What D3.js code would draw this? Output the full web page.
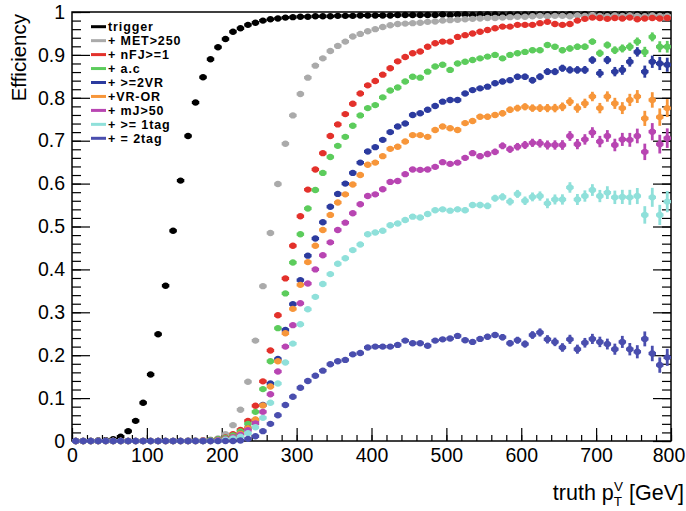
<!DOCTYPE html>
<html>
<head>
<meta charset="utf-8">
<script src="https://cdn.jsdelivr.net/npm/d3@7"></script>
<style>
  html, body { margin: 0; padding: 0; background: #fff; }
  svg { display: block; font-family: "Liberation Sans", Arial, Helvetica, sans-serif; }
</style>
</head>
<body>
<svg id="chart" width="686" height="511"></svg>
<script>
// Bin centres of truth pT^V [GeV]: 80 bins of 10 GeV
const binCentres = [5,15,25,35,45,55,65,75,85,95,105,115,125,135,145,155,165,175,185,195,
  205,215,225,235,245,255,265,275,285,295,305,315,325,335,345,355,365,375,385,395,
  405,415,425,435,445,455,465,475,485,495,505,515,525,535,545,555,565,575,585,595,
  605,615,625,635,645,655,665,675,685,695,705,715,725,735,745,755,765,775,785,795];

// Number of truth events per bin (denominator of each efficiency)
const truthEvents = [300000,300000,300000,300000,300000,300000,300000,300000,300000,300000,
  300000,300000,300000,300000,300000,300000,300000,300000,300000,300000,
  250000,250000,200000,200000,200000,180000,160000,150000,140000,130000,
  120000,100000,90000,80000,70000,60000,50000,42000,36000,30000,
  25000,21000,18000,16000,14000,12000,10500,9500,8500,7600,
  7000,6200,5600,5000,4600,4200,3800,3400,3100,2800,
  2500,2300,2100,1900,1800,1700,1600,1500,1400,1300,
  1200,1100,1000,900,800,700,600,500,450,400];

const trigger = [0,0,0,0.001,0.002,0.004,0.010,0.023,0.047,0.089,
  0.155,0.249,0.362,0.490,0.607,0.711,0.789,0.848,0.890,0.918,
  0.937,0.954,0.962,0.970,0.975,0.980,0.983,0.985,0.987,0.988,
  0.989,0.989,0.990,0.990,0.990,0.991,0.991,0.991,0.992,0.992,
  0.992,0.992,0.992,0.993,0.993,0.993,0.993,0.993,0.993,0.994,
  0.993,0.994,0.994,0.993,0.994,0.994,0.994,0.993,0.994,0.994,
  0.994,0.995,0.994,0.994,0.995,0.994,0.995,0.994,0.995,0.994,
  0.995,0.994,0.995,0.995,0.994,0.995,0.994,0.995,0.994,0.995];

const met250 = [0,0,0,0,0,0,0,0,0,0,
  0,0,0,0,0,0.001,0.001,0.002,0.003,0.006,
  0.016,0.037,0.073,0.138,0.234,0.361,0.485,0.599,0.693,0.759,
  0.809,0.847,0.875,0.892,0.909,0.921,0.931,0.943,0.949,0.955,
  0.960,0.965,0.969,0.972,0.973,0.974,0.975,0.977,0.978,0.980,
  0.981,0.982,0.983,0.984,0.985,0.986,0.986,0.987,0.988,0.989,
  0.989,0.990,0.991,0.990,0.991,0.991,0.990,0.992,0.991,0.993,
  0.991,0.990,0.992,0.991,0.992,0.991,0.990,0.992,0.991,0.991];

const nFJ = [0,0,0,0,0,0,0,0,0,0,
  0,0,0,0,0,0,0,0.001,0.002,0.004,
  0.008,0.016,0.026,0.047,0.082,0.139,0.211,0.293,0.379,0.455,
  0.524,0.586,0.633,0.671,0.711,0.738,0.762,0.786,0.810,0.829,
  0.839,0.854,0.869,0.885,0.895,0.904,0.908,0.919,0.927,0.931,
  0.931,0.942,0.946,0.950,0.954,0.958,0.962,0.966,0.966,0.970,
  0.970,0.970,0.974,0.977,0.972,0.970,0.972,0.980,0.984,0.987,
  0.986,0.984,0.986,0.985,0.987,0.983,0.985,0.986,0.985,0.986];

const aC = [0,0,0,0,0,0,0,0,0,0,
  0,0,0,0,0,0,0,0,0.002,0.004,
  0.007,0.013,0.022,0.040,0.068,0.121,0.186,0.263,0.344,0.416,
  0.482,0.542,0.585,0.625,0.662,0.688,0.709,0.735,0.759,0.776,
  0.783,0.801,0.817,0.824,0.838,0.849,0.847,0.861,0.873,0.877,
  0.865,0.880,0.884,0.888,0.892,0.896,0.900,0.892,0.900,0.904,
  0.907,0.911,0.911,0.923,0.919,0.911,0.915,0.919,0.919,0.931,
  0.904,0.923,0.911,0.915,0.919,0.931,0.907,0.942,0.919,0.919];

const vr2 = [0,0,0,0,0,0,0,0,0,0,
  0,0,0,0,0,0,0,0,0,0.002,
  0.005,0.009,0.017,0.030,0.049,0.084,0.134,0.191,0.259,0.319,
  0.375,0.432,0.472,0.510,0.546,0.576,0.600,0.625,0.649,0.675,
  0.685,0.702,0.720,0.733,0.740,0.760,0.764,0.772,0.781,0.791,
  0.795,0.795,0.810,0.818,0.822,0.826,0.834,0.838,0.841,0.849,
  0.849,0.841,0.849,0.861,0.861,0.869,0.865,0.865,0.865,0.888,
  0.857,0.888,0.861,0.865,0.884,0.907,0.861,0.884,0.880,0.877];

const vrOR = [0,0,0,0,0,0,0,0,0,0,
  0,0,0,0,0,0,0,0,0,0.002,
  0.005,0.009,0.017,0.030,0.050,0.083,0.127,0.186,0.251,0.308,
  0.364,0.417,0.455,0.492,0.527,0.556,0.575,0.598,0.620,0.644,
  0.649,0.664,0.681,0.686,0.698,0.713,0.713,0.709,0.725,0.733,
  0.729,0.725,0.741,0.746,0.756,0.756,0.760,0.764,0.772,0.776,
  0.779,0.776,0.776,0.776,0.776,0.779,0.791,0.776,0.787,0.803,
  0.776,0.803,0.787,0.776,0.795,0.803,0.752,0.795,0.755,0.776];

const mJ50 = [0,0,0,0,0,0,0,0,0,0,
  0,0,0,0,0,0,0,0,0,0.001,
  0.004,0.008,0.014,0.025,0.041,0.068,0.109,0.162,0.220,0.270,
  0.321,0.367,0.400,0.433,0.463,0.492,0.509,0.531,0.552,0.571,
  0.575,0.587,0.604,0.606,0.622,0.633,0.632,0.633,0.639,0.650,
  0.646,0.649,0.660,0.671,0.664,0.669,0.674,0.688,0.680,0.686,
  0.690,0.695,0.694,0.690,0.690,0.690,0.711,0.692,0.703,0.719,
  0.698,0.711,0.690,0.703,0.702,0.711,0.674,0.721,0.692,0.706];

const tag1 = [0,0,0,0,0,0,0,0,0,0,
  0,0,0,0,0,0,0,0,0,0,
  0.003,0.006,0.010,0.018,0.032,0.054,0.089,0.134,0.183,0.227,
  0.272,0.307,0.336,0.366,0.389,0.413,0.426,0.445,0.458,0.482,
  0.486,0.490,0.503,0.507,0.515,0.523,0.521,0.529,0.538,0.540,
  0.537,0.540,0.538,0.550,0.550,0.548,0.566,0.569,0.558,0.576,
  0.560,0.569,0.571,0.554,0.563,0.563,0.591,0.563,0.571,0.585,
  0.571,0.579,0.568,0.569,0.568,0.571,0.527,0.568,0.527,0.558];

const tag2 = [0,0,0,0,0,0,0,0,0,0,
  0,0,0,0,0,0,0,0,0,0,
  0,0,0.001,0.005,0.011,0.023,0.040,0.060,0.084,0.103,
  0.124,0.140,0.152,0.164,0.179,0.186,0.189,0.202,0.205,0.218,
  0.220,0.220,0.220,0.224,0.234,0.228,0.228,0.222,0.234,0.237,
  0.239,0.245,0.235,0.231,0.238,0.243,0.247,0.242,0.228,0.235,
  0.226,0.247,0.253,0.237,0.231,0.218,0.237,0.214,0.229,0.238,
  0.231,0.226,0.214,0.231,0.214,0.208,0.238,0.204,0.177,0.195];

const seriesNames = ["trigger", "+ MET>250", "+ nFJ>=1", "+ a.c", "+ >=2VR",
  "+VR-OR", "+ mJ>50", "+ >= 1tag", "+ = 2tag"];
const seriesValues = [trigger, met250, nFJ, aC, vr2, vrOR, mJ50, tag1, tag2];
const seriesColors = ["#000000", "#aaaaaa", "#e3312b", "#5ccc5c", "#2c3b9f",
  "#f7963a", "#b845b2", "#8fe0da", "#4a4eae"];

const xTicks = [0, 100, 200, 300, 400, 500, 600, 700, 800];
const yTicks = [0, 0.1, 0.2, 0.3, 0.4, 0.5, 0.6, 0.7, 0.8, 0.9, 1];
const binWidth = 10;

const svg = d3.select("#chart");
const frame = { left: 72, right: 671, top: 12, bottom: 441 };

const x = d3.scaleLinear().domain([0, 800]).range([frame.left, frame.right]);
const y = d3.scaleLinear().domain([0, 1]).range([frame.bottom, frame.top]);

// ---- axes (ticks inside the frame, ROOT style) ----
const axisG = svg.append("g");
const xMinor = d3.range(0, 801, 20);
const yMinor = d3.range(0, 1.0001, 0.02);

axisG.append("g").attr("transform", `translate(0,${frame.bottom})`)
  .call(d3.axisBottom(x).tickValues(xMinor).tickSize(-6).tickFormat(""))
  .call(g => g.select(".domain").remove());
axisG.append("g").attr("class", "xlab").attr("transform", `translate(0,${frame.bottom})`)
  .call(d3.axisBottom(x).tickValues(xTicks).tickSize(-13).tickPadding(7)
    .tickFormat(d3.format("d")))
  .call(g => g.select(".domain").remove());

axisG.append("g").attr("transform", `translate(${frame.left},0)`)
  .call(d3.axisLeft(y).tickValues(yMinor).tickSize(-9).tickFormat(""))
  .call(g => g.select(".domain").remove());
axisG.append("g").attr("class", "ylab").attr("transform", `translate(${frame.left},0)`)
  .call(d3.axisLeft(y).tickValues(yTicks).tickSize(-18).tickPadding(9)
    .tickFormat(d => d === 0 || d === 1 ? d3.format("d")(d) : d3.format(".1f")(d)))
  .call(g => g.select(".domain").remove());

axisG.append("g").attr("transform", `translate(${frame.right},0)`)
  .call(d3.axisRight(y).tickValues(yMinor).tickSize(-9).tickFormat(""))
  .call(g => g.select(".domain").remove());
axisG.append("g").attr("transform", `translate(${frame.right},0)`)
  .call(d3.axisRight(y).tickValues(yTicks).tickSize(-18).tickFormat(""))
  .call(g => g.select(".domain").remove());

axisG.selectAll(".tick line").attr("stroke", "#000").attr("stroke-width", 1.2);
axisG.selectAll(".tick text").attr("font-size", 19.5).attr("fill", "#000")
  .attr("font-family", "'Liberation Sans', Arial, sans-serif");
axisG.selectAll(".ylab .tick text").attr("x", -7);
// keep the last x label inside the page
axisG.selectAll(".xlab .tick text").filter(d => d === 800).attr("dx", -2.5);

// frame
svg.append("rect")
  .attr("x", frame.left).attr("y", frame.top)
  .attr("width", frame.right - frame.left).attr("height", frame.bottom - frame.top)
  .attr("fill", "none").attr("stroke", "#000").attr("stroke-width", 1.5);

// ---- data points with binomial error bars ----
const plot = svg.append("g");
seriesValues.forEach((vals, si) => {
  const color = seriesColors[si];
  const g = plot.append("g");
  vals.forEach((v, i) => {
    const xc = binCentres[i];
    const err = Math.sqrt(Math.max(v * (1 - v), 0) / truthEvents[i]);
    g.append("line")
      .attr("x1", x(xc - binWidth / 2)).attr("x2", x(xc + binWidth / 2))
      .attr("y1", y(v)).attr("y2", y(v))
      .attr("stroke", color).attr("stroke-width", 3.2);
    if (err > 0) {
      g.append("line")
        .attr("x1", x(xc)).attr("x2", x(xc))
        .attr("y1", y(Math.max(0, v - err))).attr("y2", y(Math.min(1, v + err)))
        .attr("stroke", color).attr("stroke-width", 2.8);
    }
    g.append("circle")
      .attr("cx", x(xc)).attr("cy", y(v)).attr("r", 3.2)
      .attr("fill", color);
  });
});

// ---- axis titles ----
svg.append("text")
  .attr("transform", `translate(26,14) rotate(-90)`)
  .attr("text-anchor", "end")
  .attr("font-size", 20.5)
  .text("Efficiency");

const xt = svg.append("text")
  .attr("x", 684).attr("y", 500)
  .attr("text-anchor", "end")
  .attr("font-size", 21.5);
xt.append("tspan").text("truth p");
xt.append("tspan").attr("font-size", 13.5).attr("dy", 6).text("T");
xt.append("tspan").attr("font-size", 13.5).attr("dx", -8).attr("dy", -15).text("V");
xt.append("tspan").attr("dy", 9).text(" [GeV]");

// ---- legend ----
const legend = svg.append("g");
seriesNames.forEach((name, i) => {
  const cy = 26.7 + i * 13.95;
  legend.append("line")
    .attr("x1", 91).attr("x2", 106).attr("y1", cy).attr("y2", cy)
    .attr("stroke", seriesColors[i]).attr("stroke-width", 3);
  legend.append("text")
    .attr("x", 108).attr("y", cy + 4.6)
    .attr("font-size", 12.5).attr("font-weight", "bold")
    .attr("letter-spacing", 0.9)
    .text(name);
});
</script>
</body>
</html>
